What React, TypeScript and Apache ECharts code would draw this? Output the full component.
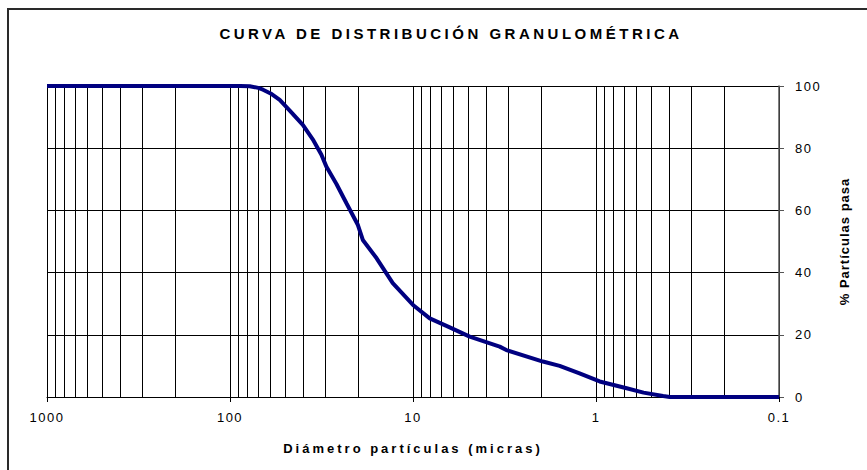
import React, { useEffect, useRef } from 'react';
import * as echarts from 'echarts';

const TITLE = 'CURVA DE DISTRIBUCIÓN GRANULOMÉTRICA';
const X_NAME = 'Diámetro partículas (micras)';
const Y_NAME = '% Partículas pasa';

// particle diameter (microns) and cumulative % passing
const diameters = [1000, 100, 88, 78, 70, 66, 60, 53.5, 47, 40, 35, 31.7, 29.7, 26.2, 23.1, 20, 18.8, 15.8, 12.9, 10, 8.1, 6.3, 4.9, 3.36, 3.09, 1.95, 1.58, 1.23, 0.955, 0.68, 0.55, 0.43, 0.395, 0.1];
const passing = [100, 100, 100, 99.9, 99.4, 98.8, 97.6, 95.5, 92, 87.5, 82.5, 78, 74, 68.5, 62.3, 55.3, 50.5, 44.6, 36.6, 29.6, 25.3, 22.4, 19.4, 16.2, 15.1, 11.4, 10.0, 7.6, 5, 2.8, 1.4, 0.3, 0, 0];

// minor (log) gridlines
const minorGrid = [900, 800, 700, 600, 500, 400, 300, 200, 90, 80, 70, 60, 50, 40, 30, 20, 9, 8, 7, 6, 5, 4, 3, 2, 0.9, 0.8, 0.7, 0.6, 0.5, 0.4, 0.3, 0.2];

const yMin = 0;
const yMax = 100;
const yStep = 20;

const F = (tag: string) => `"Liberation Sans", Arial, ${tag}`;

export default function App() {
  const ref = useRef<HTMLDivElement>(null);
  useEffect(() => {
    const chart = echarts.init(ref.current!, null, { renderer: 'svg' });
    chart.setOption({
      animation: false,
      backgroundColor: '#ffffff',
      grid: { left: 47, right: 88, top: 86, bottom: 73 },
      xAxis: {
        type: 'log',
        logBase: 10,
        min: 0.1,
        max: 1000,
        inverse: true,
        name: X_NAME,
        nameLocation: 'middle',
        nameGap: 45,
        nameTextStyle: { fontFamily: F('Xxnm'), fontSize: 13, fontWeight: 'bold', color: '#000' },
        axisLine: { show: true, lineStyle: { color: '#000', width: 1 } },
        axisTick: { show: true, length: 5, lineStyle: { color: '#000' } },
        axisLabel: {
          margin: 14,
          fontFamily: F('Xlbl'),
          fontSize: 13,
          color: '#000',
          formatter: (v: number) => String(Number(v.toPrecision(6))),
        },
        splitLine: { show: true, lineStyle: { color: '#000', width: 1 } },
      },
      yAxis: {
        type: 'value',
        min: yMin,
        max: yMax,
        interval: yStep,
        position: 'right',
        name: Y_NAME,
        nameLocation: 'middle',
        nameGap: 59,
        nameRotate: 90,
        nameTextStyle: { fontFamily: F('Xynm'), fontSize: 13, fontWeight: 'bold', color: '#000' },
        axisLine: { show: true, lineStyle: { color: '#555', width: 1.5 } },
        axisTick: { show: true, length: 5, lineStyle: { color: '#555' } },
        axisLabel: { margin: 16, fontFamily: F('Xlbl'), fontSize: 13, color: '#000' },
        splitLine: { show: true, lineStyle: { color: '#000', width: 1 } },
      },
      series: [
        {
          type: 'line',
          data: [],
          silent: true,
          z: 1,
          markLine: {
            silent: true,
            symbol: 'none',
            label: { show: false },
            lineStyle: { color: '#000', width: 1, type: 'solid' },
            data: minorGrid.map((v) => ({ xAxis: v })),
          },
        },
        {
          type: 'line',
          data: diameters.map((d, i) => [d, passing[i]]),
          showSymbol: false,
          symbol: 'none',
          lineStyle: { color: '#000080', width: 4 },
          itemStyle: { color: '#000080' },
          z: 5,
        },
      ],
      graphic: [
        {
          type: 'rect',
          shape: { x: 8, y: 9, width: 900, height: 500 },
          style: { fill: 'none', stroke: '#2a2a2a', lineWidth: 2 },
          silent: true,
        },
        {
          type: 'text',
          x: 451,
          y: 33,
          style: {
            text: TITLE,
            textAlign: 'center',
            textVerticalAlign: 'middle',
            fontFamily: F('Xttl'),
            fontSize: 15,
            fontWeight: 'bold',
            fill: '#000',
          },
        },
      ],
    });
    return () => chart.dispose();
  }, []);
  return (
    <div style={{ position: 'fixed', left: 0, top: 0, width: 867, height: 470, background: '#fff' }}>
      <style>{`
        text[style*="Xttl"] { letter-spacing: 3.5px; }
        text[style*="Xxnm"] { letter-spacing: 3px; }
        text[style*="Xlbl"] { letter-spacing: 1.5px; }
        text[style*="Xynm"] { letter-spacing: 1px; }
      `}</style>
      <div ref={ref} style={{ width: 867, height: 470 }} />
    </div>
  );
}
